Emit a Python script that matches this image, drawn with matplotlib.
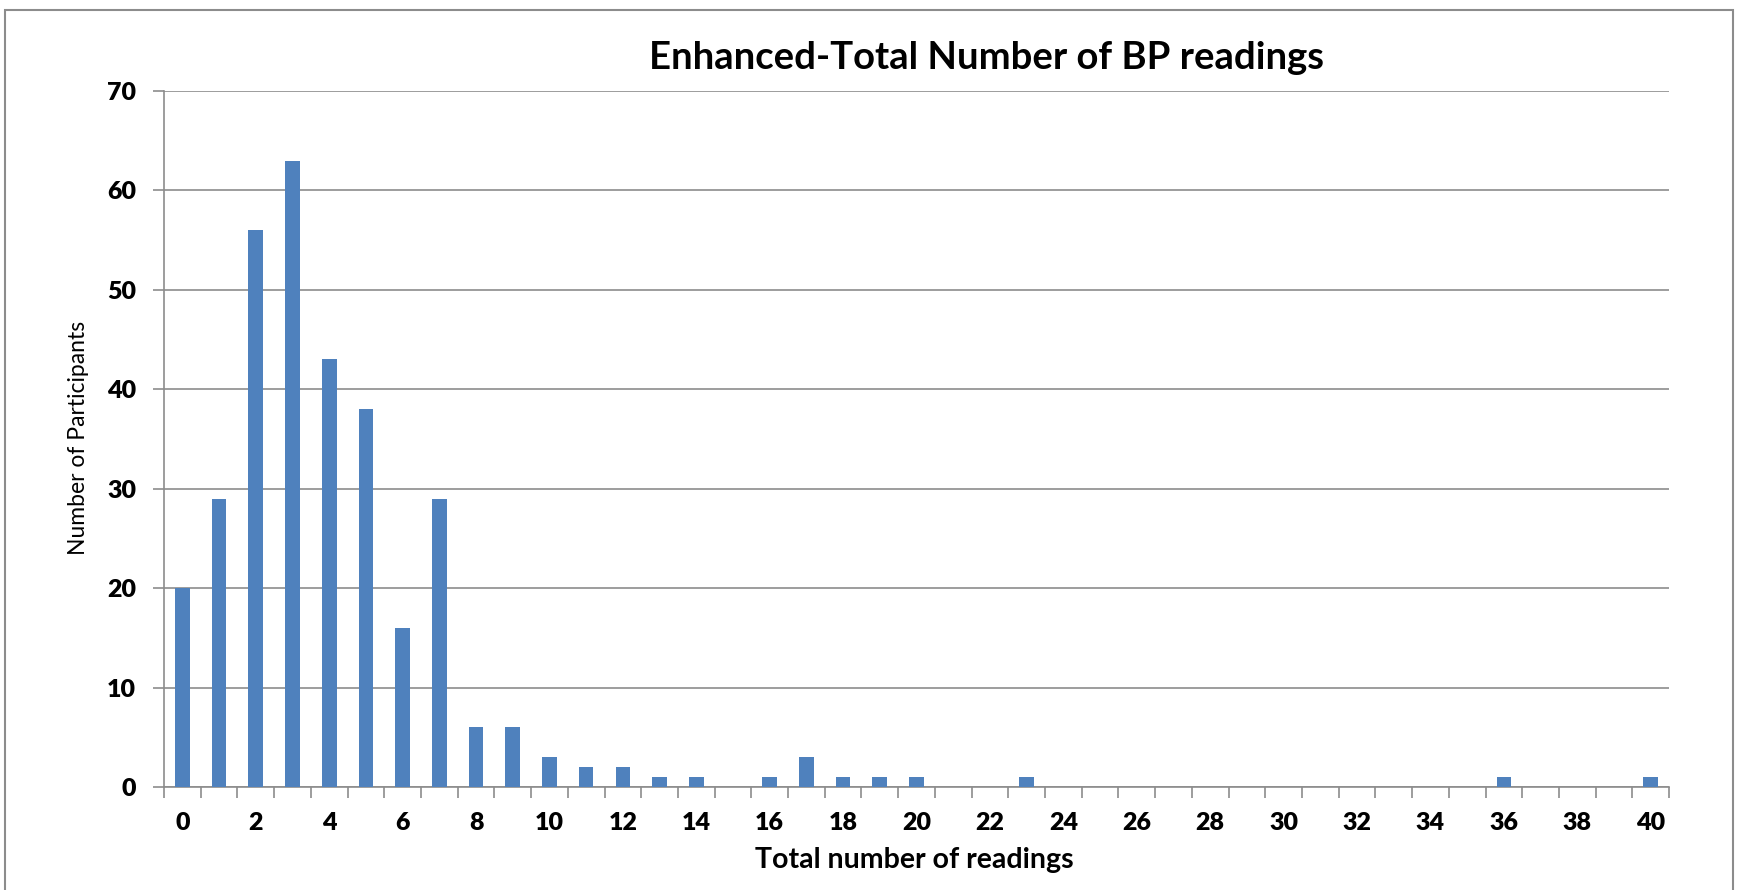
import matplotlib
matplotlib.use('Agg')

import matplotlib.pyplot as plt
from matplotlib.patches import Rectangle

# readings per participant -> how many participants
okumalar = list(range(0, 41))
katilimci = [20, 29, 56, 63, 43, 38, 16, 29, 6, 6,
             3, 2, 2, 1, 1, 0, 1, 3, 1, 1,
             1, 0, 0, 1, 0, 0, 0, 0, 0, 0,
             0, 0, 0, 0, 0, 0, 1, 0, 0, 0,
             1]
etiketler = [str(v) if v % 2 == 0 else '' for v in okumalar]

plt.rcParams['font.family'] = ['Lato', 'DejaVu Sans']

fig = plt.figure(figsize=(17.39, 8.9), dpi=100)
ax = fig.add_axes([0.0943, 0.1157, 0.8655, 0.7821])

ax.bar(okumalar, katilimci, width=0.4, color='#4F81BD', zorder=3)

ax.set_xlim(-0.5, 40.5)
ax.set_ylim(0, 70)
ax.set_yticks(range(0, 71, 10))
ax.yaxis.grid(True, color='#8C8C8C', linewidth=1.2, zorder=0)

# labels on categories, tick marks between them
ax.set_xticks(okumalar)
ax.set_xticklabels(etiketler)
ax.tick_params(axis='x', which='major', length=0, pad=18, labelsize=18)
ax.set_xticks([v - 0.5 for v in okumalar] + [40.5], minor=True)
ax.tick_params(axis='x', which='minor', length=8, width=1.2, color='#8C8C8C')
ax.tick_params(axis='y', length=8, width=1.2, color='#8C8C8C', pad=12, labelsize=18)
for lab in ax.get_xticklabels() + ax.get_yticklabels():
    lab.set_fontweight('heavy')

for s in ['top', 'right']:
    ax.spines[s].set_visible(False)
for s in ['left', 'bottom']:
    ax.spines[s].set_color('#8C8C8C')
    ax.spines[s].set_linewidth(1.2)

fig.text(0.567, 0.935, 'Enhanced-Total Number of BP readings',
         ha='center', va='center', fontsize=27.5, fontweight='bold')
fig.text(0.526, 0.034, 'Total number of readings',
         ha='center', va='center', fontsize=20.5, fontweight='bold')
fig.text(0.045, 0.508, 'Number of Participants', rotation=90,
         ha='center', va='center', fontsize=16.5)

# chart border
fig.patches.append(Rectangle((0.003, -0.1), 0.9935, 1.089, transform=fig.transFigure,
                             fill=False, edgecolor='#8C8C8C', linewidth=1.5))

fig.savefig('out.png', dpi=100)
